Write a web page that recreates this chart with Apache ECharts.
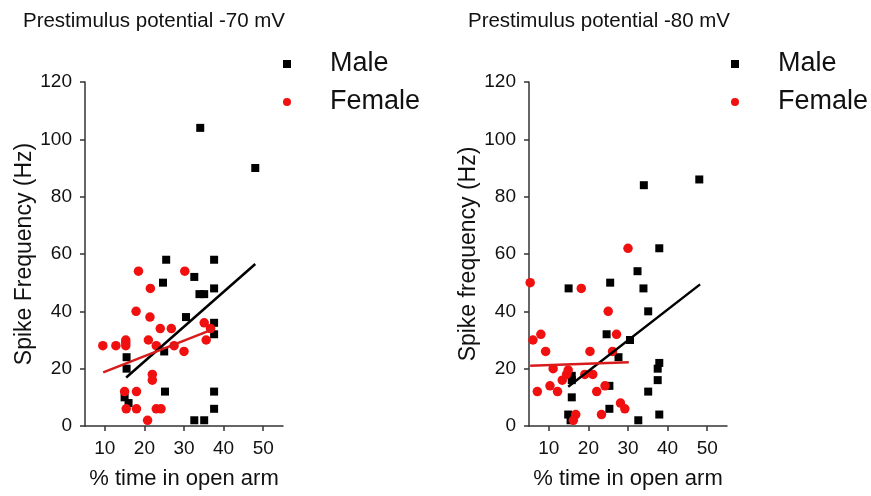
<!DOCTYPE html>
<html>
<head>
<meta charset="utf-8">
<script src="https://cdn.jsdelivr.net/npm/echarts@6/dist/echarts.min.js"></script>
<style>
html,body{margin:0;padding:0;background:#fff;}
#chart{width:871px;height:496px;}
</style>
</head>
<body>
<div id="chart"></div>
<script>
// ---- data ----
const titles = ['Prestimulus potential -70 mV', 'Prestimulus potential -80 mV'];
const yNames = ['Spike Frequency (Hz)', 'Spike frequency (Hz)'];
const xName = '% time in open arm';
const legendNames = ['Male', 'Female'];
const xTicks = [10, 20, 30, 40, 50];
const yTicks = [0, 20, 40, 60, 80, 100, 120];

const maleMinus70 = [
  [25.5,58],[37.6,58],[32.6,52],[24.7,50],[33.9,46],[35.1,46],[37.6,48],[30.5,38],
  [37.6,36],[37.6,32],[25,26],[15.5,24],[15.5,20],[25.2,12],[15,10],[16,8],
  [37.6,12],[37.6,6],[32.6,2],[35.1,2],[34.1,104],[48,90]
];
const femaleMinus70 = [
  [9.5,28],[12.8,28],[15.3,30],[15.3,29],[15.3,28],[18.5,54],[21.5,48],[17.9,40],
  [21.4,38],[21,30],[24,34],[26.8,34],[23,28],[27.5,28],[30,26],[30.2,54],
  [35.1,36],[36.7,34],[35.6,30],[22,18],[22,16],[15,12],[18,12],[15.4,6],
  [18,6],[23,6],[24.2,6],[20.8,2]
];
const maleFitMinus70 = [[15.4,16.9],[48,56.5]];
const femaleFitMinus70 = [[9.6,18.7],[37.4,33.8]];

const maleMinus80 = [
  [37.9,62],[32.4,54],[33.9,48],[15,48],[25.5,50],[35.1,40],[24.6,32],[30.5,30],
  [27.6,24],[37.9,22],[37.5,20],[15.8,17.5],[15.8,16],[25.3,14],[37.5,16],[35.1,12],
  [15.8,10],[14.9,4],[15.5,2],[25.3,6],[32.6,2],[37.9,4],[34,84],[48,86]
];
const femaleMinus80 = [
  [5.3,50],[6,30],[8,32],[9.2,26],[7.1,12],[10.3,14],[11.1,20],[12.2,12],
  [13.4,16],[14.5,18],[14.9,19.5],[18.2,48],[16.8,4],[16.2,2],[19.1,18],[21.1,18],
  [20.4,26],[22.1,12],[23.3,4],[24.2,14],[25,40],[27.1,32],[26.1,26],[28.1,8],
  [29.2,6],[30,62]
];
const maleFitMinus80 = [[14.9,13.7],[48.2,49.4]];
const femaleFitMinus80 = [[5.3,21.0],[30.2,22.2]];

// ---- chart ----
const FONT = "'Liberation Sans', Arial, sans-serif";
const TXT = '#111';
const AX = '#333';
const RED = '#f01010';
const RED_LINE = '#d81c1c';

const gridLefts = [85, 529];
const grids = gridLefts.map(l => ({left:l, top:82, width:198, height:344, outerBoundsMode:'none', containLabel:false}));

function xAxisFor(i){
  return {
    gridIndex:i, type:'value', min:5, max:55,
    axisLine:{show:true, onZero:false, lineStyle:{color:AX, width:1.5}},
    axisTick:{show:true, customValues:xTicks, length:5, lineStyle:{color:AX, width:1.5}},
    axisLabel:{customValues:xTicks, fontSize:19, color:TXT, fontFamily:FONT, margin:13},
    splitLine:{show:false},
    name:xName, nameLocation:'middle', nameGap:42,
    nameTextStyle:{fontSize:22, color:TXT, fontFamily:FONT}
  };
}
function yAxisFor(i){
  return {
    gridIndex:i, type:'value', min:0, max:120, interval:20,
    axisLine:{show:true, onZero:false, lineStyle:{color:AX, width:1.5}},
    axisTick:{show:true, length:5, lineStyle:{color:AX, width:1.5}},
    axisLabel:{fontSize:19, color:TXT, fontFamily:FONT, margin:13},
    splitLine:{show:false},
    name:yNames[i], nameLocation:'middle', nameGap:48,
    nameTextStyle:{fontSize:23, color:TXT, fontFamily:FONT}
  };
}

function scatter(name, data, i, symbol, color, size){
  return {type:'scatter', name, data, xAxisIndex:i, yAxisIndex:i, symbol, symbolSize:size,
    itemStyle:{color, opacity:1}, z:3};
}
function fit(name, data, i, color){
  return {type:'line', name, data, xAxisIndex:i, yAxisIndex:i, symbol:'none',
    lineStyle:{color, width:2.5}, z:4, silent:true};
}

const titleCenters = [149, 594];
const legendLefts = [278, 726];

const option = {
  animation:false,
  backgroundColor:'#fff',
  textStyle:{fontFamily:FONT},
  title: titles.map((t,i)=>({text:t, left:titleCenters[i], top:6, textAlign:'center',
    textStyle:{fontSize:20.5, fontWeight:'normal', color:TXT, fontFamily:FONT}})),
  legend: legendLefts.map(l=>({
    left:l, top:44, orient:'vertical', itemGap:8,
    itemWidth:8, itemHeight:8,
    data:[{name:legendNames[0], icon:'rect'},{name:legendNames[1], icon:'circle'}],
    textStyle:{fontSize:27, color:TXT, fontFamily:FONT, padding:[0,0,0,34], lineHeight:30},
    selectedMode:false
  })),
  grid: grids,
  xAxis: [xAxisFor(0), xAxisFor(1)],
  yAxis: [yAxisFor(0), yAxisFor(1)],
  series: [
    scatter(legendNames[0], maleMinus70, 0, 'rect', '#000', 8),
    scatter(legendNames[1], femaleMinus70, 0, 'circle', RED, 9.5),
    fit('Male fit -70', maleFitMinus70, 0, '#000'),
    fit('Female fit -70', femaleFitMinus70, 0, RED_LINE),
    scatter(legendNames[0], maleMinus80, 1, 'rect', '#000', 8),
    scatter(legendNames[1], femaleMinus80, 1, 'circle', RED, 9.5),
    fit('Male fit -80', maleFitMinus80, 1, '#000'),
    fit('Female fit -80', femaleFitMinus80, 1, RED_LINE)
  ]
};
const chart = echarts.init(document.getElementById('chart'), null, {renderer:'canvas'});
chart.setOption(option);
</script>
</body>
</html>
